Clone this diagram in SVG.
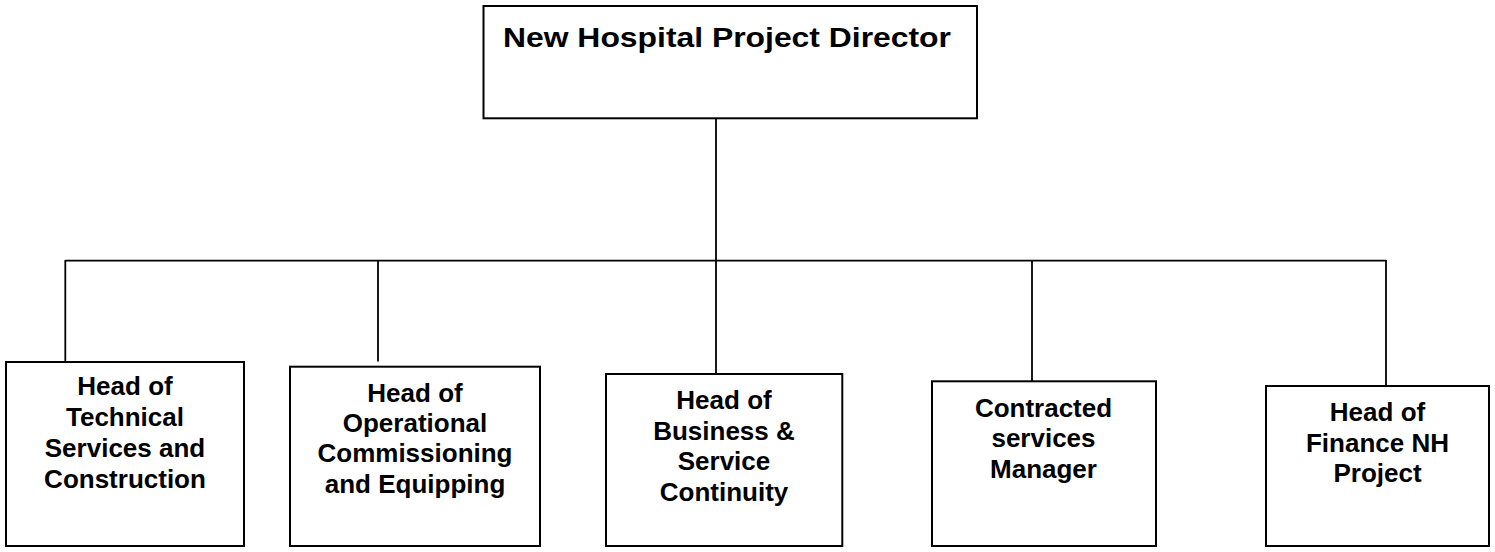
<svg xmlns="http://www.w3.org/2000/svg" width="1495" height="552" viewBox="0 0 1495 552">
<style>
.box{fill:#fff;stroke:#000;stroke-width:2}
.con{stroke:#000;stroke-width:1.8;fill:none}
.t{font-family:"Liberation Sans",Arial,sans-serif;font-weight:bold;font-size:26px;fill:#000;text-anchor:middle}
.title{font-family:"Liberation Sans",Arial,sans-serif;font-weight:bold;font-size:27px;fill:#000}
</style>
<rect width="1495" height="552" fill="#fff"/>
<g id="connectors">
<line class="con" x1="716" y1="118" x2="716" y2="374"/>
<line class="con" x1="65.3" y1="260.7" x2="1386" y2="260.7"/>
<line class="con" x1="65.3" y1="260" x2="65.3" y2="362"/>
<line class="con" x1="378" y1="260" x2="378" y2="361.5"/>
<line class="con" x1="1032" y1="260" x2="1032" y2="381"/>
<line class="con" x1="1386" y1="260" x2="1386" y2="386"/>
</g>
<g id="director">
<rect class="box" x="483.5" y="6" width="493.5" height="112.3"/>
<text class="title" x="503" y="46.5" textLength="448" lengthAdjust="spacingAndGlyphs">New Hospital Project Director</text>
</g>
<g id="technical">
<rect class="box" x="6" y="362" width="238" height="184"/>
<text class="t" x="125" y="395">Head of</text>
<text class="t" x="125" y="426">Technical</text>
<text class="t" x="125" y="457">Services and</text>
<text class="t" x="125" y="488">Construction</text>
</g>
<g id="operational">
<rect class="box" x="290" y="366.7" width="250" height="179.3"/>
<text class="t" x="415" y="401.5">Head of</text>
<text class="t" x="415" y="431.8">Operational</text>
<text class="t" x="415" y="462.3">Commissioning</text>
<text class="t" x="415" y="493">and Equipping</text>
</g>
<g id="business">
<rect class="box" x="606" y="374" width="236.3" height="172"/>
<text class="t" x="724" y="409">Head of</text>
<text class="t" x="724" y="439.5">Business &amp;</text>
<text class="t" x="724" y="470">Service</text>
<text class="t" x="724" y="500.5">Continuity</text>
</g>
<g id="contracted">
<rect class="box" x="932" y="381.3" width="224" height="164.7"/>
<text class="t" x="1043.5" y="416.5">Contracted</text>
<text class="t" x="1043.5" y="447.3">services</text>
<text class="t" x="1043.5" y="478">Manager</text>
</g>
<g id="finance">
<rect class="box" x="1266" y="386" width="223" height="160"/>
<text class="t" x="1377.5" y="420.7">Head of</text>
<text class="t" x="1377.5" y="451.5">Finance NH</text>
<text class="t" x="1377.5" y="482.3">Project</text>
</g>
</svg>
